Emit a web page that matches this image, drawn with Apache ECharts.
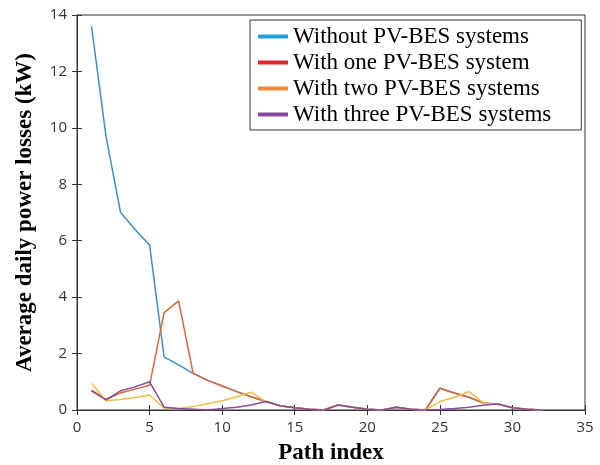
<!DOCTYPE html>
<html>
<head>
<meta charset="utf-8">
<script src="https://cdn.jsdelivr.net/npm/echarts@6/dist/echarts.min.js"></script>
<style>
  html, body { margin: 0; padding: 0; background: #fff; }
  #chart { width: 600px; height: 465px; }
</style>
</head>
<body>
<div id="chart"></div>
<script>
// Path indices 1..32
const pathIndex = [1,2,3,4,5,6,7,8,9,10,11,12,13,14,15,16,17,18,19,20,21,22,23,24,25,26,27,28,29,30,31,32];

// Average daily power losses (kW) per path
const withoutPV = [13.6, 9.7, 7.0, 6.4, 5.85, 1.88, 1.6, 1.3, 1.05, 0.85, 0.65, 0.47, 0.3, 0.15, 0.08, 0.03, 0.0, 0.18, 0.1, 0.03, 0.0, 0.1, 0.03, 0.0, 0.77, 0.6, 0.45, 0.25, 0.2, 0.08, 0.03, 0.0];
const withOnePV = [0.7, 0.38, 0.6, 0.74, 0.88, 3.45, 3.87, 1.3, 1.05, 0.85, 0.65, 0.47, 0.3, 0.15, 0.08, 0.03, 0.0, 0.18, 0.1, 0.03, 0.0, 0.1, 0.03, 0.0, 0.77, 0.6, 0.45, 0.25, 0.2, 0.08, 0.03, 0.0];
const withTwoPV = [0.95, 0.33, 0.37, 0.44, 0.53, 0.07, 0.05, 0.12, 0.22, 0.33, 0.47, 0.63, 0.3, 0.15, 0.08, 0.03, 0.0, 0.18, 0.1, 0.03, 0.0, 0.1, 0.03, 0.0, 0.3, 0.45, 0.65, 0.25, 0.2, 0.08, 0.03, 0.0];
const withThreePV = [0.68, 0.36, 0.68, 0.82, 1.0, 0.1, 0.05, 0.03, 0.0, 0.05, 0.1, 0.18, 0.3, 0.15, 0.08, 0.03, 0.0, 0.18, 0.1, 0.03, 0.0, 0.1, 0.03, 0.0, 0.02, 0.05, 0.1, 0.17, 0.22, 0.08, 0.03, 0.0];

const seriesNames = ['Without PV-BES systems', 'With one PV-BES system', 'With two PV-BES systems', 'With three PV-BES systems'];
const lineColors = ['#3d8fc9', '#d9683a', '#eebd45', '#8a4a9a'];
const legendColors = ['#1fa0dc', '#e0262a', '#f08a3a', '#8a48a0'];
const allValues = [withoutPV, withOnePV, withTwoPV, withThreePV];

const chart = echarts.init(document.getElementById('chart'), null, { renderer: 'canvas' });

const axisColor = '#333';
const tickFont = { fontFamily: 'Open Sans', fontSize: 15, color: '#333' };
const titleFont = { fontFamily: 'Liberation Serif', fontWeight: 'bold', fontSize: 23, color: '#000' };

const series = allValues.map((vals, i) => ({
  name: seriesNames[i],
  type: 'line',
  data: pathIndex.map((x, k) => [x, vals[k]]),
  showSymbol: false,
  symbol: 'none',
  lineStyle: { width: 1.5, color: lineColors[i] },
  itemStyle: { color: lineColors[i] },
  emphasis: { disabled: true },
  animation: false,
  z: 2 + i
}));

chart.setOption({
  backgroundColor: '#fff',
  animation: false,
  grid: {
    left: 77, right: 15, top: 15, bottom: 55,
    containLabel: false, outerBoundsMode: 'none',
    show: true, borderColor: axisColor, borderWidth: 1
  },
  legend: {
    left: 250,
    top: 20,
    orient: 'vertical',
    padding: [5, 30, 4, 8],
    itemGap: 3,
    itemWidth: 30,
    itemHeight: 4,
    icon: 'rect',
    backgroundColor: '#fff',
    borderColor: '#333',
    borderWidth: 1,
    textStyle: { fontFamily: 'Liberation Serif', fontSize: 23, lineHeight: 23, color: '#000' },
    data: seriesNames.map((n, i) => ({ name: n, itemStyle: { color: legendColors[i] } }))
  },
  xAxis: [{
    type: 'value', min: 0, max: 35, interval: 5,
    name: 'Path index', nameLocation: 'middle', nameGap: 32,
    nameTextStyle: titleFont,
    axisLine: { show: true, lineStyle: { color: axisColor } },
    axisTick: { show: true, inside: true, length: 5, lineStyle: { color: axisColor } },
    axisLabel: Object.assign({ margin: 10 }, tickFont),
    splitLine: { show: false }
  }, {
    type: 'value', min: 0, max: 35, interval: 5, position: 'top',
    axisLine: { show: true, lineStyle: { color: axisColor } },
    axisTick: { show: true, inside: true, length: 5, lineStyle: { color: axisColor } },
    axisLabel: { show: false },
    splitLine: { show: false }
  }],
  yAxis: [{
    type: 'value', min: 0, max: 14, interval: 2,
    name: 'Average daily power losses (kW)', nameLocation: 'middle', nameGap: 40,
    nameTextStyle: titleFont,
    axisLine: { show: true, lineStyle: { color: axisColor } },
    axisTick: { show: true, inside: true, length: 5, lineStyle: { color: axisColor } },
    axisLabel: Object.assign({ margin: 10 }, tickFont),
    splitLine: { show: false }
  }, {
    type: 'value', min: 0, max: 14, interval: 2, position: 'right',
    axisLine: { show: true, lineStyle: { color: axisColor } },
    axisTick: { show: true, inside: true, length: 5, lineStyle: { color: axisColor } },
    axisLabel: { show: false },
    splitLine: { show: false }
  }],
  series: series
});
</script>
</body>
</html>
